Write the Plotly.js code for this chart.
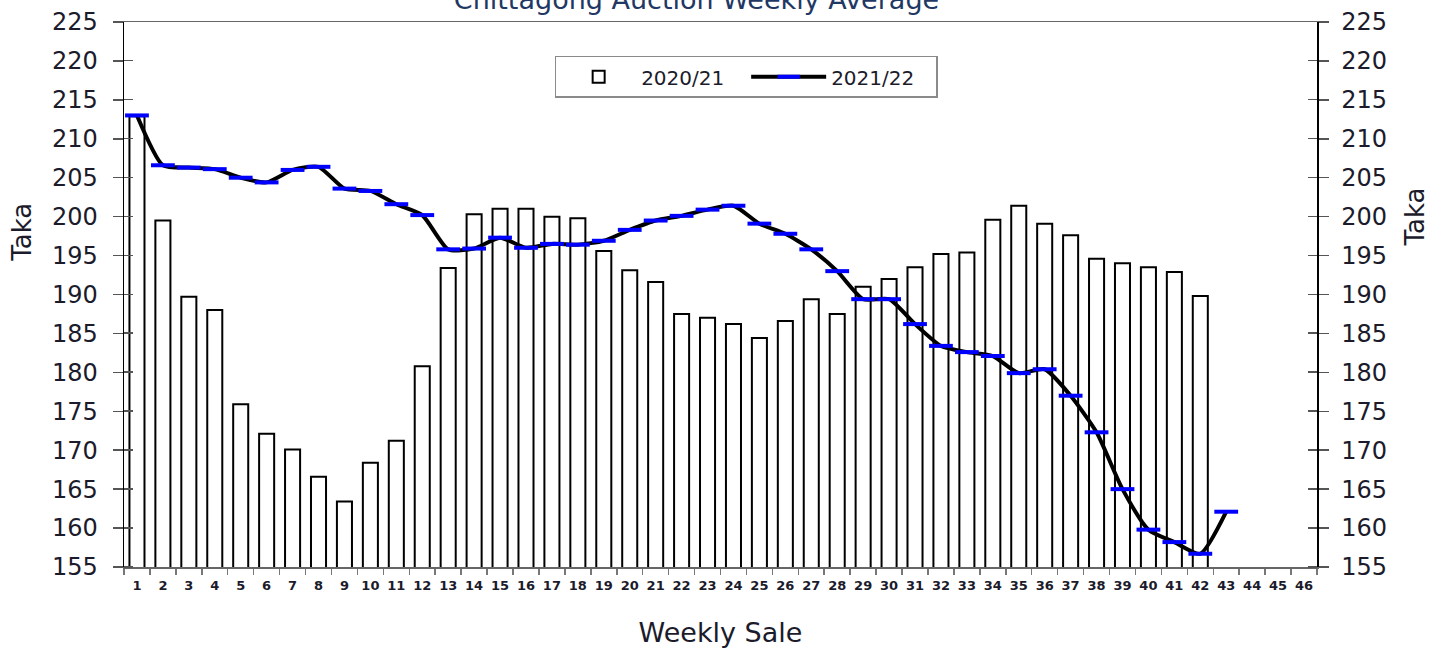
<!DOCTYPE html>
<html>
<head>
<meta charset="utf-8">
<script src="https://cdn.plot.ly/plotly-3.0.1.min.js"></script>
<style>html,body{margin:0;padding:0;background:#fff}#chart{width:1442px;height:648px}</style>
</head>
<body>
<div id="chart"></div>
<script>
const weeks = Array.from({length: 46}, (_, i) => String(i + 1));
const weeks2021 = weeks.slice(0, 42);
const weeks2122 = weeks.slice(0, 43);
const avg2021 = [212.9, 199.5, 189.7, 188.0, 175.9, 172.1, 170.1, 166.6, 163.4, 168.4,
  171.2, 180.8, 193.4, 200.3, 201.0, 201.0, 200.0, 199.8, 195.6, 193.1,
  191.6, 187.5, 187.0, 186.2, 184.4, 186.6, 189.4, 187.5, 191.0, 192.0,
  193.5, 195.2, 195.4, 199.6, 201.4, 199.1, 197.6, 194.6, 194.0, 193.5,
  192.9, 189.8];
const avg2122 = [213.0, 206.6, 206.3, 206.1, 205.0, 204.4, 206.0, 206.4, 203.6, 203.3,
  201.6, 200.2, 195.8, 195.9, 197.3, 196.0, 196.5, 196.4, 196.9, 198.3,
  199.5, 200.1, 200.9, 201.4, 199.1, 197.8, 195.8, 193.0, 189.4, 189.4,
  186.2, 183.4, 182.6, 182.1, 179.9, 180.4, 177.0, 172.3, 165.0, 159.8,
  158.2, 156.7, 162.1];
const yTitle = 'Taka';

const FONT = 'DejaVu Sans, Verdana, sans-serif';
const TXT = '#1b1b2b';

const traces = [
  {
    type: 'bar', name: '2020/21', x: weeks2021, y: avg2021, yaxis: 'y',
    marker: {color: '#ffffff', line: {color: '#000000', width: 2}},
    hoverinfo: 'x+y'
  },
  {
    type: 'scatter', mode: 'lines+markers', name: '2021/22', x: weeks2122, y: avg2122, yaxis: 'y2',
    line: {color: '#000000', width: 4, shape: 'spline', smoothing: 0.6},
    marker: {symbol: 'line-ew', size: 17, line: {color: '#0000ff', width: 4}},
    hoverinfo: 'x+y'
  }
];

const yCommon = {
  range: [155, 225], dtick: 5, showgrid: false, zeroline: false, fixedrange: true,
  ticks: 'outside', ticklen: 10, tickcolor: '#555', tickwidth: 1.5,
  showline: true, linecolor: '#000', linewidth: 1.5,
  tickfont: {family: FONT, size: 24, color: TXT},
  minor: {tick0: 155.03, dtick: 5, ticks: 'inside', ticklen: 9, tickcolor: '#555', tickwidth: 1.5, showgrid: false}
};

const layout = {
  width: 1442, height: 648,
  margin: {l: 124, r: 125, t: 22, b: 81},
  paper_bgcolor: '#ffffff', plot_bgcolor: '#ffffff',
  font: {family: FONT, color: TXT},
  showlegend: true,
  bargap: 0.42,
  title: {
    text: 'Chittagong Auction Weekly Average',
    font: {family: FONT, size: 27, color: '#1F3864'},
    x: 0.483, xref: 'container', xanchor: 'center',
    y: 1, yref: 'container', yanchor: 'middle'
  },
  xaxis: {
    type: 'category', categoryorder: 'array', categoryarray: weeks,
    range: [-0.5, 45.5], tickson: 'boundaries', tickangle: 0,
    ticks: 'outside', ticklen: 6, tickcolor: '#777', tickwidth: 1.5,
    showline: true, linecolor: '#666', linewidth: 1.5, mirror: true,
    showgrid: false, zeroline: false, ticklabelstandoff: 6,
    tickfont: {family: FONT, size: 13, color: TXT, weight: 'bold'},
    title: {text: 'Weekly Sale', font: {family: FONT, size: 27, color: TXT}, standoff: 34}
  },
  yaxis: Object.assign({}, yCommon, {side: 'left', ticklabelstandoff: 10}),
  yaxis2: Object.assign({}, yCommon, {overlaying: 'y', side: 'right', ticklabelstandoff: 8}),
  annotations: [
    {text: yTitle, xref: 'paper', yref: 'paper', x: -0.0855, y: 0.615, textangle: -90,
     showarrow: false, xanchor: 'center', yanchor: 'middle', font: {family: FONT, size: 26, color: TXT}},
    {text: yTitle, xref: 'paper', yref: 'paper', x: 1.0825, y: 0.642, textangle: -90,
     showarrow: false, xanchor: 'center', yanchor: 'middle', font: {family: FONT, size: 26, color: TXT}}
  ],
  legend: {
    orientation: 'h', x: 0.5215, xanchor: 'center', y: 0.938, yanchor: 'top',
    bordercolor: '#8a8a8a', borderwidth: 1.5, bgcolor: '#ffffff',
    font: {family: FONT, size: 20, color: TXT},
    entrywidth: 100, itemwidth: 75, tracegroupgap: 0
  }
};

Plotly.newPlot('chart', traces, layout, {displayModeBar: false, staticPlot: true});
</script>
</body>
</html>
